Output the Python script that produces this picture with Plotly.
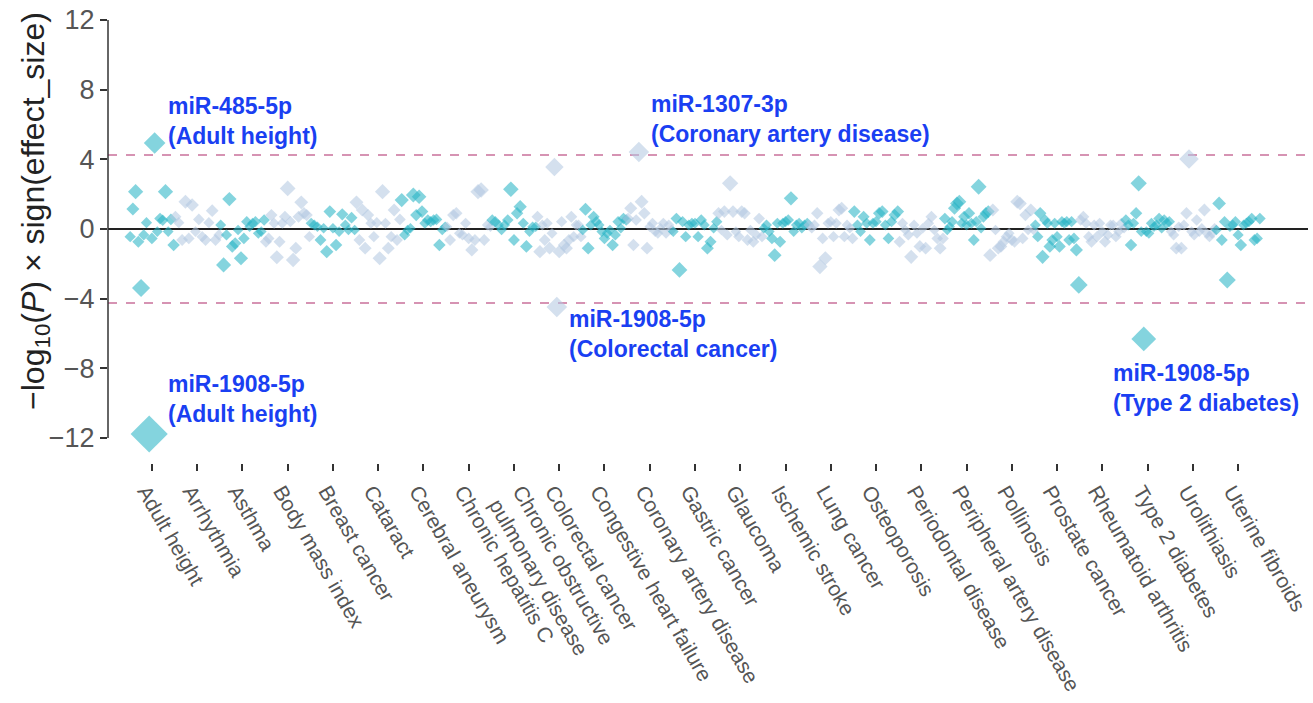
import plotly.graph_objects as go

# Disease / trait categories along the x axis
categories = [
    "Adult height", "Arrhythmia", "Asthma", "Body mass index", "Breast cancer",
    "Cataract", "Cerebral aneurysm", "Chronic hepatitis C",
    "Chronic obstructive<br>pulmonary disease", "Colorectal cancer",
    "Congestive heart failure", "Coronary artery disease", "Gastric cancer",
    "Glaucoma", "Ischemic stroke", "Lung cancer", "Osteoporosis",
    "Periodontal disease", "Peripheral artery disease", "Pollinosis",
    "Prostate cancer", "Rheumatoid arthritis", "Type 2 diabetes",
    "Urolithiasis", "Uterine fibroids",
]

# Signed -log10(P) per miRNA, listed in plotting order within each category
adult_height = [-0.44, 1.15, 2.14, -0.73, -3.39, -0.34, 0.36, -11.77, -0.54, 4.94,
                -0.15, 0.6, 0.5, 2.14, -0.15, 0.55, -0.92]
arrhythmia = [0.7, 0.36, -0.63, 1.57, -0.54, 1.38, -0.15, 0.55, -0.44, -0.63,
              0.36, 1.05, -0.63, -0.34]
asthma = [0.23, -2.06, -0.34, 1.72, -1.0, -0.82, -0.06, -1.68, -0.54, 0.42,
          0.13, 0.33, 0.42, -0.25, -0.15, 0.52]
body_mass_index = [-0.73, -0.54, 0.8, 0.33, -1.62, -0.73, 0.33, 0.7, 2.33, 0.42,
                   -1.78, -1.1, 0.7, 1.53, 0.9, 0.8, -0.44]
breast_cancer = [0.33, 0.23, 0.13, -0.63, 0.04, -1.3, 1.0, 0.04, -0.92, -0.15,
                 0.84, 0.23, -0.06, 0.65, -0.06]
cataract = [1.53, -0.63, 1.09, -1.1, 0.8, 0.33, -0.44, 0.36, -1.68, 2.14,
            0.33, -1.1, -0.44, 1.09, -0.63, 0.55]
cerebral_aneurysm = [1.66, -0.34, -0.06, 0.04, 1.95, 0.8, 1.85, 1.0, 0.33, 0.52,
                     0.42, 0.52, 0.55, -0.92, -0.06, 0.13]
chronic_hepatitis_c = [0.13, -0.63, 0.8, 0.9, -0.25, -0.34, 0.33, -0.54, -1.2, -0.63,
                       2.14, 2.24, -0.63, 0.23, 0.13]
copd = [0.52, 0.42, 0.23, -0.06, 0.23, 0.52, 2.28, -0.63, 0.9, 1.28,
        0.33, -1.0, -0.15, 0.13, 0.13]
colorectal_cancer = [0.7, -1.3, 0.23, -0.63, 0.33, -1.1, -0.25, 3.56, -4.48, -1.3,
                     0.42, -0.92, -1.1, -0.63, 0.7, -0.44, 0.23, 0.23, -0.44]
congestive_heart_failure = [-0.06, 1.13, -1.1, 0.23, 0.7, 0.42, 0.23, -0.15, -0.54, -0.25,
                            -0.06, -0.92, -0.34, 0.42, 0.04, 0.6, 0.52]
coronary_artery_disease = [0.6, 1.19, -0.92, 0.52, 4.42, 1.57, 0.9, -1.1, 0.13, 0.33,
                           -0.15, -0.25, 0.04, 0.33, -0.25, 0.23, -0.06]
gastric_cancer = [-0.15, 0.6, -2.35, 0.42, -0.44, 0.23, 0.33, 0.33, -0.44, 0.52,
                  0.23, -1.1, -0.73, 0.04, 0.42]
glaucoma = [0.9, -0.06, 1.0, -0.34, 2.62, 1.0, -0.15, -0.44, 1.0, 0.9,
            -0.63, -0.06, -0.73, -0.34, 0.6, -0.44]
ischemic_stroke = [0.04, 0.23, -0.15, -0.54, -1.5, 0.33, -0.73, 0.33, 0.42, 0.52,
                   1.76, -0.15, 0.23, 0.33, 0.04, 0.23, 0.33]
lung_cancer = [0.23, 0.04, 0.23, 0.9, -2.16, -0.54, -1.68, 0.33, 0.42, -0.44,
               0.33, 1.09, 1.19, -0.44, 0.23, 0.04, -0.54]
osteoporosis = [1.0, 0.23, -0.15, 0.7, 0.33, -0.63, 0.33, 0.42, 0.9, 1.0,
                0.23, -0.54, 0.42, 0.8, 1.0]
periodontal_disease = [-0.73, 0.33, -0.06, -0.34, -1.6, 0.23, -0.25, -1.0, 0.04, -1.1,
                       0.33, 0.7, -0.06, -0.54, -1.1, -0.54]
peripheral_artery_disease = [0.6, -0.06, 0.13, 0.42, 1.19, 1.47, 1.57, 0.33, 0.7, 0.23,
                             0.9, 0.33, -0.63, 0.42, 2.43, 0.04, 0.7, 0.9, 1.0]
pollinosis = [-1.5, 1.09, -0.06, -1.1, -1.0, -0.73, -0.44, -0.25, -0.63, -0.73,
              1.57, 1.47, -0.54, 0.8, -0.06, 1.09, -0.06]
prostate_cancer = [0.23, -0.44, 0.9, -1.6, 0.52, 0.33, -1.0, -0.63, 0.33, -0.44,
                   -1.0, 0.42, 0.33, 0.42, -0.63, 0.42, -0.54, -1.2, -3.21]
rheumatoid_arthritis = [0.52, 0.7, 0.33, -0.44, -0.73, 0.23, -0.44, 0.33, -0.15, -0.73,
                        -0.34, 0.23, 0.23, -0.44, -0.15, 0.33, 0.04]
type_2_diabetes = [0.52, 0.23, -0.92, 0.33, 0.9, 2.62, -0.15, -6.31, -0.15, -0.25,
                   0.33, 0.13, 0.23, 0.6, 0.04, 0.52, 0.33, 0.42]
urolithiasis = [-0.15, -0.34, -1.1, 0.13, -1.1, 0.23, 0.9, 4.02, -0.15, -0.34,
                0.52, -0.15, 0.04, 1.09, -0.25, -0.44, -0.25, 0.04]
uterine_fibroids = [-0.06, 1.47, -0.63, 0.42, -2.93, 0.13, 0.23, 0.42, -0.34, -0.92,
                    0.23, 0.33, 0.42, 0.6, -0.63, -0.54, 0.6]

series = [
    adult_height, arrhythmia, asthma, body_mass_index, breast_cancer, cataract,
    cerebral_aneurysm, chronic_hepatitis_c, copd, colorectal_cancer,
    congestive_heart_failure, coronary_artery_disease, gastric_cancer, glaucoma,
    ischemic_stroke, lung_cancer, osteoporosis, periodontal_disease,
    peripheral_artery_disease, pollinosis, prostate_cancer, rheumatoid_arthritis,
    type_2_diabetes, urolithiasis, uterine_fibroids,
]

# Significance threshold (Bonferroni) shown as dashed lines
threshold = 4.25

# Highlighted miRNAs: (category index, label text, label x shift, label value position)
highlights = [
    (0, "miR-485-5p<br>(Adult height)", 0.31, 6.2),
    (11, "miR-1307-3p<br>(Coronary artery disease)", -0.02, 6.3),
    (9, "miR-1908-5p<br>(Colorectal cancer)", 0.17, -6.05),
    (0, "miR-1908-5p<br>(Adult height)", 0.31, -9.75),
    (22, "miR-1908-5p<br>(Type 2 diabetes)", -0.8, -9.15),
]

TEAL = "rgba(40,180,198,0.82)"
LIGHT = "rgba(178,199,225,0.8)"
SPREAD = 0.96
FONT = "Liberation Sans, Arial, Helvetica, sans-serif"
X_RANGE = [-0.97, 25.544]

# Two-line labels are centred on their tick on a separate overlay axis
single_idx = [i for i, c in enumerate(categories) if "<br>" not in c]
multi_idx = [i for i, c in enumerate(categories) if "<br>" in c]

fig = go.Figure()

for ci, vals in enumerate(series):
    n = len(vals)
    xs = [ci - SPREAD / 2 + SPREAD * j / (n - 1) for j in range(n)]
    sizes = [8 + 1.75 * abs(v) for v in vals]
    fig.add_trace(go.Scatter(
        x=xs, y=vals, mode="markers",
        marker=dict(symbol="diamond", size=sizes,
                    color=TEAL if ci % 2 == 0 else LIGHT,
                    line=dict(width=0)),
        showlegend=False, hoverinfo="y",
    ))

fig.add_trace(go.Scatter(x=[], y=[], xaxis="x2", showlegend=False, hoverinfo="skip"))

# Reference lines: zero and the significance thresholds
fig.add_shape(type="line", xref="paper", x0=0, x1=1, yref="y", y0=0, y1=0,
              line=dict(color="#222222", width=2), layer="below")
for t in (threshold, -threshold):
    fig.add_shape(type="line", xref="paper", x0=0, x1=1, yref="y", y0=t, y1=t,
                  line=dict(color="#c9709a", width=1.6, dash="dash"), layer="below")

# Left axis spine spanning only the labelled range
fig.add_shape(type="line", xref="paper", x0=0, x1=0, yref="y", y0=-12, y1=12,
              line=dict(color="#333333", width=1.5))

for ci, text, dx, yv in highlights:
    fig.add_annotation(x=ci + dx, y=yv, text=f"<b>{text}</b>", showarrow=False,
                       xanchor="left", yanchor="middle", align="left",
                       font=dict(family=FONT, size=23, color="#1a3ff2"))

# Y axis title
fig.add_annotation(xref="paper", yref="paper", x=-0.061, y=0.556,
                   text="\u2212log<sub>10</sub>(<i>P</i>) \u00d7 sign(effect_size)",
                   textangle=-90, showarrow=False, xanchor="center", yanchor="middle",
                   font=dict(family=FONT, size=32, color="#222222"))

xaxis_common = dict(
    range=X_RANGE, tickmode="array", tickangle=60,
    tickfont=dict(size=21, color="#555555"),
    ticklabeloverflow="allow",
    ticks="outside", ticklen=7, tickwidth=1.5,
    showline=False, showgrid=False, zeroline=False,
)

fig.update_layout(
    width=1313, height=703,
    margin=dict(l=108, r=3, t=10, b=240),
    paper_bgcolor="white", plot_bgcolor="white",
    font=dict(family=FONT, color="#555555"),
    xaxis=dict(
        **xaxis_common,
        tickvals=list(range(len(categories))),
        ticktext=[categories[i] if i in single_idx else "" for i in range(len(categories))],
        ticklabelshift=-6, tickcolor="#333333",
    ),
    xaxis2=dict(
        **xaxis_common,
        overlaying="x", anchor="y", side="bottom",
        tickvals=multi_idx, ticktext=[categories[i] for i in multi_idx],
        ticklabelshift=7, tickcolor="rgba(0,0,0,0)",
    ),
    yaxis=dict(
        range=[-13.435, 12.574],
        tickvals=[-12, -8, -4, 0, 4, 8, 12],
        ticktext=["\u221212", "\u22128", "\u22124", "0", "4", "8", "12"],
        tickfont=dict(size=27, color="#555555"),
        ticks="outside", ticklen=7, tickwidth=1.5, tickcolor="#333333",
        showline=False, showgrid=False, zeroline=False,
    ),
)

fig.write_html("out.html")
